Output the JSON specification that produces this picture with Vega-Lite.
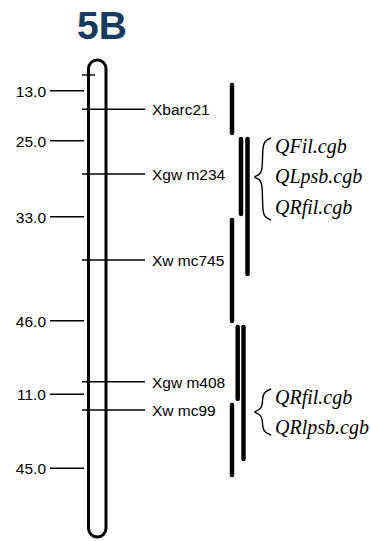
{
  "$schema": "https://vega.github.io/schema/vega-lite/v6.json",
  "autosize": {"type": "fit", "contains": "padding"},
  "width": 371,
  "height": 541,
  "padding": 0,
  "background": "white",
  "config": {"view": {"stroke": null}},
  "datasets": {
    "title": [{"label": "5B", "x": 102, "y": 27}],
    "chrom": [{"x": 88.5, "x2": 106, "y": 60, "y2": 537}],
    "intervals": [
      {"label": "13.0", "pos": 90.7},
      {"label": "25.0", "pos": 140.7},
      {"label": "33.0", "pos": 216.7},
      {"label": "46.0", "pos": 320.7},
      {"label": "11.0", "pos": 394.3},
      {"label": "45.0", "pos": 468.3}
    ],
    "markers": [
      {"label": "", "pos": 75, "x": 82, "x2": 95},
      {"label": "Xbarc21", "pos": 109.3, "x": 82, "x2": 145},
      {"label": "Xgw m234", "pos": 174, "x": 82, "x2": 145},
      {"label": "Xw mc745", "pos": 260, "x": 82, "x2": 145},
      {"label": "Xgw m408", "pos": 381.7, "x": 82, "x2": 145},
      {"label": "Xw mc99", "pos": 410, "x": 82, "x2": 145}
    ],
    "qtl": [
      {"x": 232, "start": 85, "end": 133},
      {"x": 241, "start": 139, "end": 214},
      {"x": 247.5, "start": 139, "end": 274},
      {"x": 232, "start": 220, "end": 321},
      {"x": 237.7, "start": 327, "end": 399},
      {"x": 243.5, "start": 327, "end": 459},
      {"x": 232, "start": 405, "end": 475}
    ],
    "braces": [
      {"brace": "a", "i": 0, "x": 271, "y": 138},
      {"brace": "a", "i": 1, "x": 264, "y": 141},
      {"brace": "a", "i": 2, "x": 262.5, "y": 150},
      {"brace": "a", "i": 3, "x": 262.5, "y": 169},
      {"brace": "a", "i": 4, "x": 260, "y": 175},
      {"brace": "a", "i": 5, "x": 252, "y": 177},
      {"brace": "a", "i": 6, "x": 260, "y": 179},
      {"brace": "a", "i": 7, "x": 262.5, "y": 185},
      {"brace": "a", "i": 8, "x": 262.5, "y": 209},
      {"brace": "a", "i": 9, "x": 264, "y": 217},
      {"brace": "a", "i": 10, "x": 271, "y": 220},
      {"brace": "b", "i": 0, "x": 271, "y": 389},
      {"brace": "b", "i": 1, "x": 264, "y": 392},
      {"brace": "b", "i": 2, "x": 262.5, "y": 398},
      {"brace": "b", "i": 3, "x": 262.5, "y": 405},
      {"brace": "b", "i": 4, "x": 260, "y": 410},
      {"brace": "b", "i": 5, "x": 252, "y": 412},
      {"brace": "b", "i": 6, "x": 260, "y": 414},
      {"brace": "b", "i": 7, "x": 262.5, "y": 419},
      {"brace": "b", "i": 8, "x": 262.5, "y": 426},
      {"brace": "b", "i": 9, "x": 264, "y": 432},
      {"brace": "b", "i": 10, "x": 271, "y": 435}
    ],
    "qtlnames": [
      {"label": "QFil.cgb", "x": 275, "y": 147},
      {"label": "QLpsb.cgb", "x": 275, "y": 177},
      {"label": "QRfil.cgb", "x": 275, "y": 208},
      {"label": "QRfil.cgb", "x": 275, "y": 398},
      {"label": "QRlpsb.cgb", "x": 275, "y": 428}
    ]
  },
  "layer": [
    {
      "data": {"name": "title"},
      "mark": {"type": "text", "fontSize": 39, "fontWeight": "bold", "font": "Liberation Sans", "color": "#183a5f", "baseline": "middle", "align": "center"},
      "encoding": {
        "x": {"field": "x", "type": "quantitative", "scale": {"domain": [0, 371], "nice": false, "zero": false}, "axis": null},
        "y": {"field": "y", "type": "quantitative", "scale": {"domain": [0, 541], "reverse": true, "nice": false, "zero": false}, "axis": null},
        "text": {"field": "label"}
      }
    },
    {
      "data": {"name": "chrom"},
      "mark": {"type": "rect", "fill": null, "filled": false, "stroke": "black", "strokeWidth": 3, "cornerRadius": 9},
      "encoding": {
        "x": {"field": "x", "type": "quantitative"},
        "x2": {"field": "x2"},
        "y": {"field": "y", "type": "quantitative"},
        "y2": {"field": "y2"}
      }
    },
    {
      "data": {"name": "intervals"},
      "mark": {"type": "rule", "color": "black", "strokeWidth": 1.6},
      "encoding": {
        "x": {"datum": 50, "type": "quantitative"},
        "x2": {"datum": 84},
        "y": {"field": "pos", "type": "quantitative"}
      }
    },
    {
      "data": {"name": "intervals"},
      "mark": {"type": "text", "fontSize": 15.5, "font": "Liberation Sans", "color": "black", "align": "right", "baseline": "middle", "dy": 1},
      "encoding": {
        "x": {"datum": 46, "type": "quantitative"},
        "y": {"field": "pos", "type": "quantitative"},
        "text": {"field": "label"}
      }
    },
    {
      "data": {"name": "markers"},
      "mark": {"type": "rule", "color": "black", "strokeWidth": 1.4},
      "encoding": {
        "x": {"field": "x", "type": "quantitative"},
        "x2": {"field": "x2"},
        "y": {"field": "pos", "type": "quantitative"}
      }
    },
    {
      "data": {"name": "markers"},
      "mark": {"type": "text", "fontSize": 15.5, "font": "Liberation Sans", "color": "black", "align": "left", "baseline": "middle", "dy": 1},
      "encoding": {
        "x": {"datum": 152, "type": "quantitative"},
        "y": {"field": "pos", "type": "quantitative"},
        "text": {"field": "label"}
      }
    },
    {
      "data": {"name": "qtl"},
      "mark": {"type": "rule", "color": "black", "strokeWidth": 4.5, "strokeCap": "round"},
      "encoding": {
        "x": {"field": "x", "type": "quantitative"},
        "y": {"field": "start", "type": "quantitative"},
        "y2": {"field": "end"}
      }
    },
    {
      "data": {"name": "braces"},
      "mark": {"type": "line", "color": "black", "strokeWidth": 1.4, "interpolate": "basis"},
      "encoding": {
        "x": {"field": "x", "type": "quantitative"},
        "y": {"field": "y", "type": "quantitative"},
        "detail": {"field": "brace"},
        "order": {"field": "i"}
      }
    },
    {
      "data": {"name": "qtlnames"},
      "mark": {"type": "text", "fontSize": 20, "font": "Liberation Serif", "fontStyle": "italic", "color": "black", "align": "left", "baseline": "middle"},
      "encoding": {
        "x": {"field": "x", "type": "quantitative"},
        "y": {"field": "y", "type": "quantitative"},
        "text": {"field": "label"}
      }
    }
  ]
}
